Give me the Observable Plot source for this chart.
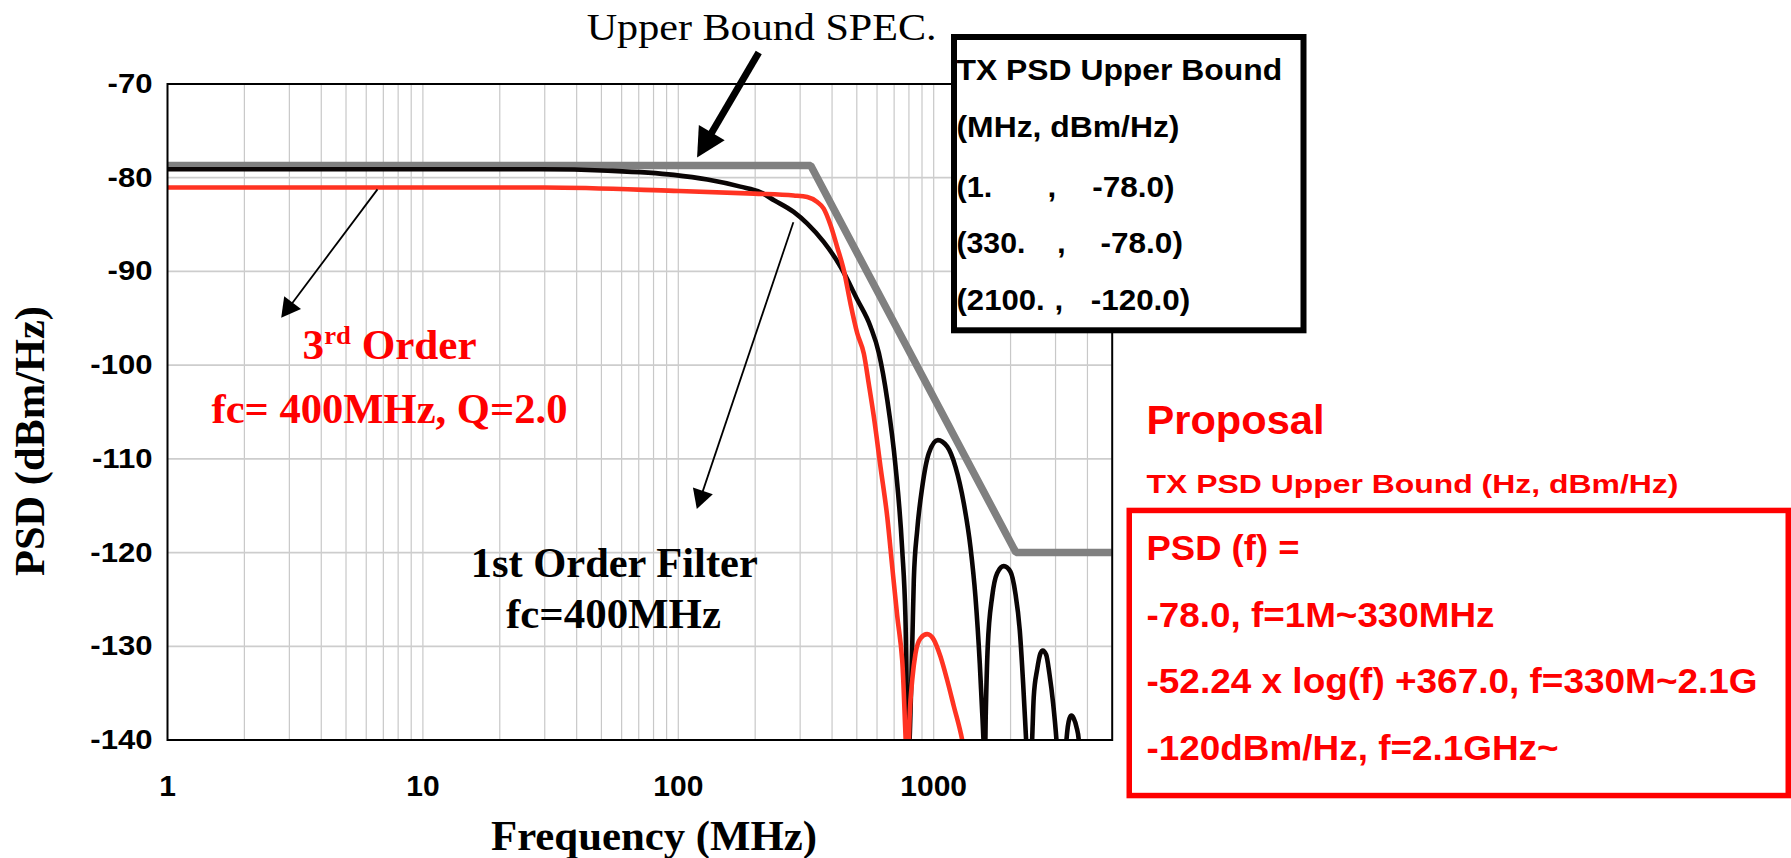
<!DOCTYPE html>
<html><head><meta charset="utf-8">
<script src="https://cdn.jsdelivr.net/npm/d3@7"></script>
<script src="https://cdn.jsdelivr.net/npm/@observablehq/plot@0.6"></script>
<style>
html,body{margin:0;padding:0;background:#fff;}
#chart{position:relative;width:1791px;height:858px;overflow:hidden;background:#fff;}
</style></head><body><div id="chart"></div>
<script>
// ---------------- data ----------------
const freqTicks = [1, 10, 100, 1000];
const psdTicks = [-140, -130, -120, -110, -100, -90, -80, -70];
const gridFreq = [2,3,4,5,6,7,8,9,10,20,30,40,50,60,70,80,90,100,200,300,400,500,600,700,800,900,1000,2000,3000,4000];

// Upper bound spec (MHz, dBm/Hz)
const specFreq = [1, 330, 2100, 5000];
const specPsd  = [-78.7, -78.7, -120, -120];

// 1st order filter, fc = 400 MHz (black)
const firstFreq = [1, 10, 29, 53, 96, 130, 175, 210, 237, 283, 320, 371, 432, 502, 566, 610, 658, 709, 753, 775, 795,
  824, 836, 862, 902, 957, 1038, 1130, 1217, 1312, 1393, 1457, 1515, 1549, 1587,
  1600, 1628, 1694, 1772, 1882, 1998, 2089, 2173, 2240, 2301, 2365,
  2429, 2465, 2541, 2618, 2673, 2756, 2838, 2936, 3025, 3170,
  3310, 3350, 3401, 3463, 3535, 3623, 3699, 3800];
const firstPsd = [-79.1, -79.1, -79.1, -79.25, -79.7, -80.2, -80.95, -81.55, -82.4, -83.65, -84.9, -86.85, -89.5, -93.0, -95.9, -98.7, -103.7, -110.8, -119.7, -126.8, -142,
  -130.0, -122.9, -117.6, -113.0, -109.4, -108.0, -108.7, -110.85, -114.75, -119.4, -124.7, -131.8, -137.1, -142,
  -137.0, -130.0, -124.7, -122.2, -121.45, -122.05, -124.35, -128.3, -133.95, -140, -146,
  -140, -135.4, -132.5, -130.75, -130.45, -130.9, -132.9, -136.1, -140, -150,
  -140, -138.6, -137.7, -137.4, -137.7, -138.6, -140, -146];

// 3rd order, fc = 400 MHz, Q = 2.0 (red)
const thirdFreq = [1, 30, 96, 198, 283, 320, 350, 371, 395, 419, 445, 472, 502, 533, 557, 583, 619, 658, 688, 720, 753, 792,
  806, 824, 849, 888, 943, 1001, 1063, 1129, 1199, 1293, 1400];
const thirdPsd = [-81.05, -81.05, -81.4, -81.7, -81.9, -82.07, -82.6, -83.3, -85.1, -87.4, -89.9, -93.4, -96.6, -98.8, -102.0, -105.5, -110.85, -116.2, -121.5, -126.8, -131.5, -143,
  -137.1, -133.6, -130.75, -129.15, -128.7, -129.3, -131.1, -133.6, -136.4, -140, -146];

// annotation arrows (data coordinates: MHz, dBm/Hz)
const arrowFromFreq = [207.5, 6.67, 283.5];
const arrowFromPsd  = [-66.7, -81.3, -84.8];
const arrowToFreq   = [119, 2.8, 118.7];
const arrowToPsd    = [-77.9, -95.0, -115.4];

// ---------------- build ----------------
const W = 1791, H = 858;
const SANS = "'Liberation Sans', Arial, sans-serif";
const SERIF = "'Liberation Serif', 'Times New Roman', serif";

const spec = specFreq.map((f, i) => ({f, v: specPsd[i]}));
const first = firstFreq.map((f, i) => ({f, v: firstPsd[i]}));
const third = thirdFreq.map((f, i) => ({f, v: thirdPsd[i]}));
const arrowStyle = [{w: 7, head: 29, half: 15}, {w: 1.8, head: 19, half: 10.5}, {w: 1.8, head: 19, half: 10.5}];
const arrows = arrowFromFreq.map((f, i) => ({f1: f, v1: arrowFromPsd[i], f2: arrowToFreq[i], v2: arrowToPsd[i], ...arrowStyle[i]}));

const xScaleOpts = {type: "log", domain: [1, 5000]};
const yScaleOpts = {domain: [-140, -70]};
const M = {left: 167, right: 679.3, top: 83.5, bottom: 118.5};

function arrowsMark(index, scales) {
  let sx = scales && typeof scales.x === "function" ? scales.x : null;
  let sy = scales && typeof scales.y === "function" ? scales.y : null;
  if (!sx) { const s = Plot.scale({x: {...xScaleOpts, range: [M.left, W - M.right]}}); sx = v => s.apply(v); }
  if (!sy) { const s = Plot.scale({y: {...yScaleOpts, range: [H - M.bottom, M.top]}}); sy = v => s.apply(v); }
  const g = d3.create("svg:g").attr("aria-label", "arrows");
  arrows.forEach(a => {
    const x1 = sx(a.f1), y1 = sy(a.v1), x2 = sx(a.f2), y2 = sy(a.v2);
    const dx = x2 - x1, dy = y2 - y1, L = Math.hypot(dx, dy), ux = dx / L, uy = dy / L;
    const bx = x2 - ux * a.head, by = y2 - uy * a.head;
    g.append("line").attr("x1", x1).attr("y1", y1).attr("x2", bx + ux * 2).attr("y2", by + uy * 2)
      .attr("stroke", "#000").attr("stroke-width", a.w);
    g.append("path").attr("d", `M${x2},${y2}L${bx - uy * a.half},${by + ux * a.half}L${bx + uy * a.half},${by - ux * a.half}Z`)
      .attr("fill", "#000");
  });
  return g.node();
}

const plot = Plot.plot({
  width: W, height: H,
  marginLeft: M.left, marginRight: M.right, marginTop: M.top, marginBottom: M.bottom,
  x: xScaleOpts,
  y: yScaleOpts,
  style: {fontFamily: SANS, fontWeight: "bold", background: "white", color: "black", overflow: "visible"},
  marks: [
    Plot.ruleX(gridFreq, {stroke: "#c8c8c8", strokeWidth: 1.2}),
    Plot.ruleY(psdTicks, {stroke: "#cdcdcd", strokeWidth: 1.7}),
    Plot.line(spec, {x: "f", y: "v", stroke: "#808080", strokeWidth: 7.5, strokeLinejoin: "miter", strokeLinecap: "butt", clip: true}),
    Plot.line(first, {x: "f", y: "v", stroke: "#0a0505", strokeWidth: 4.6, curve: "monotone-x", clip: true}),
    Plot.line(third, {x: "f", y: "v", stroke: "#ff3322", strokeWidth: 4.6, curve: "monotone-x", clip: true}),
    Plot.frame({stroke: "#000", strokeWidth: 2}),
    Plot.axisX({ticks: freqTicks, tickFormat: d => String(d), tickSize: 0, tickPadding: 35, fontSize: 30, label: null}),
    Plot.axisY({ticks: psdTicks, tickFormat: d => String(d), tickSize: 0, tickPadding: 15, fontSize: 28, label: null}),
    arrowsMark
  ]
});
document.getElementById("chart").append(plot);
const svg = plot.tagName.toLowerCase() === "svg" ? plot : plot.querySelector("svg");

// font sizes of tick labels & slight horizontal stretch of y labels
svg.querySelectorAll('g[aria-label="x-axis tick label"]').forEach(g => g.setAttribute("font-size", 30));
svg.querySelectorAll('g[aria-label="y-axis tick label"]').forEach(g => g.setAttribute("font-size", 28));
svg.querySelectorAll('g[aria-label="y-axis tick label"] text').forEach(t => {
  const tr = t.getAttribute("transform");
  if (tr) t.setAttribute("transform", tr + " scale(1.11,1)");
  else { const x = +t.getAttribute("x") || 0; t.setAttribute("transform", `translate(${x},0) scale(1.11,1) translate(${-x},0)`); }
});

// ---------------- annotation layout ----------------
const boxes = [
  {x: 954, y: 37, w: 349.5, h: 293.3, stroke: "#000", sw: 6, fill: "#fff"},
  {x: 1129.25, y: 510.45, w: 659, h: 285.1, stroke: "#ff0000", sw: 5.5, fill: "none"}
];
const texts = [
  {t: "Upper Bound SPEC.", x: 586.7, y: 39.5, size: 39, font: SERIF, weight: "normal", color: "#000", w: 350},
  {parts: ["3", "rd", " Order"], x: 302.6, y: 359.3, size: 42, font: SERIF, color: "#ff0000", w: 174},
  {t: "fc= 400MHz, Q=2.0", x: 211.5, y: 423.3, size: 42, font: SERIF, color: "#ff0000", w: 356},
  {t: "1st Order Filter", x: 470.7, y: 577.3, size: 42, font: SERIF, color: "#000", w: 287},
  {t: "fc=400MHz", x: 506, y: 628.3, size: 42, font: SERIF, color: "#000", w: 215},
  {t: "Frequency (MHz)", x: 491, y: 850, size: 42, font: SERIF, color: "#000", w: 326},
  {t: "PSD (dBm/Hz)", x: 44, y: 576, rot: -90, size: 42, font: SERIF, color: "#000", w: 270},
  {t: "TX PSD Upper Bound", x: 956.5, y: 80, size: 29, font: SANS, color: "#000", w: 325.7},
  {t: "(MHz, dBm/Hz)", x: 956.5, y: 137.3, size: 29, font: SANS, color: "#000", w: 223},
  {t: "(1.", x: 956.5, y: 196.7, size: 29, font: SANS, color: "#000", sx: 1.06},
  {t: ",", x: 1047.5, y: 196.7, size: 29, font: SANS, color: "#000", sx: 1.08},
  {t: "-78.0)", x: 1092.2, y: 196.7, size: 29, font: SANS, color: "#000", w: 82.4},
  {t: "(330.", x: 956.5, y: 253.3, size: 29, font: SANS, color: "#000", w: 68.8},
  {t: ",", x: 1057, y: 253.3, size: 29, font: SANS, color: "#000", sx: 1.08},
  {t: "-78.0)", x: 1100.5, y: 253.3, size: 29, font: SANS, color: "#000", w: 82.4},
  {t: "(2100.", x: 956.5, y: 310, size: 29, font: SANS, color: "#000", w: 88.2},
  {t: ",", x: 1054.5, y: 310, size: 29, font: SANS, color: "#000", sx: 1.08},
  {t: "-120.0)", x: 1090.8, y: 310, size: 29, font: SANS, color: "#000", w: 99.4},
  {t: "Proposal", x: 1146.5, y: 434, size: 40, font: SANS, color: "#ff0000", w: 178},
  {t: "TX PSD Upper Bound (Hz, dBm/Hz)", x: 1146.5, y: 493.3, size: 26.5, font: SANS, color: "#ff0000", w: 532},
  {t: "PSD (f) =", x: 1146.5, y: 560, size: 35, font: SANS, color: "#ff0000", w: 153},
  {t: "-78.0, f=1M~330MHz", x: 1146.5, y: 626.7, size: 35, font: SANS, color: "#ff0000", w: 348},
  {t: "-52.24 x log(f) +367.0, f=330M~2.1G", x: 1146.5, y: 693.3, size: 35, font: SANS, color: "#ff0000", w: 611},
  {t: "-120dBm/Hz, f=2.1GHz~", x: 1146.5, y: 760, size: 35, font: SANS, color: "#ff0000", w: 412}
];

const ann = d3.select(svg).append("g").attr("aria-label", "annotations").attr("text-anchor", "start");
boxes.forEach(b => ann.append("rect").attr("x", b.x).attr("y", b.y).attr("width", b.w).attr("height", b.h)
  .attr("fill", b.fill).attr("stroke", b.stroke).attr("stroke-width", b.sw));
const textEls = texts.map(d => {
  const el = ann.append("text").attr("text-anchor", "start").attr("font-family", d.font).attr("font-weight", d.weight || "bold")
    .attr("font-size", d.size).attr("fill", d.color).style("white-space", "pre");
  if (d.parts) {
    el.append("tspan").text(d.parts[0]);
    el.append("tspan").attr("font-size", 26).attr("dy", -15).text(d.parts[1]);
    el.append("tspan").attr("font-size", d.size).attr("dy", 15).text(d.parts[2]);
  } else el.text(d.t);
  return [d, el];
});
function layoutTexts() {
  textEls.forEach(([d, el]) => {
    let s = d.sx || 1;
    if (d.w) { const len = el.node().getComputedTextLength(); if (len > 0) s = d.w / len; }
    el.attr("transform", `translate(${d.x},${d.y}) rotate(${d.rot || 0}) scale(${s},1)`);
  });
}
layoutTexts();
if (document.fonts && document.fonts.ready) document.fonts.ready.then(layoutTexts);
</script></body></html>
